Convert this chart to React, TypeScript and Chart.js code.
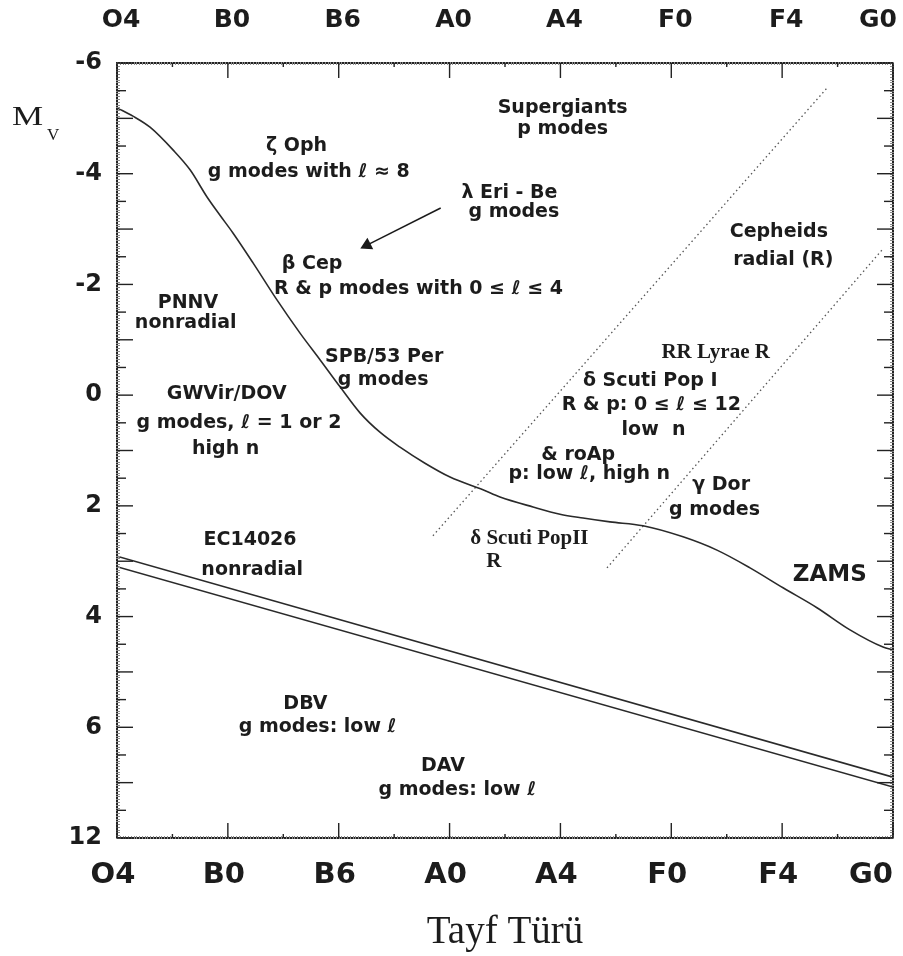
import React, { useEffect, useRef } from 'react';
import { Chart, registerables } from 'chart.js';

Chart.register(...registerables);

// ---- data ----
const spectralTypes = ['O4', 'B0', 'B6', 'A0', 'A4', 'F0', 'F4', 'G0'];
const mvTickValues = [-6, -4, -2, 0, 2, 4, 6, 8];
const mvTickLabels = ['-6', '-4', '-2', '0', '2', '4', '6', '12'];

// ZAMS (x = spectral type index, y = M_V)
const zamsType = [0, 0.144, 0.298, 0.505, 0.659, 0.812, 0.929, 1.046, 1.227, 1.443, 1.651, 1.831, 2.012, 2.192, 2.372, 2.553, 2.778, 3.004, 3.301, 3.455, 3.753, 3.996, 4.204, 4.447, 4.745, 5.106, 5.412, 5.71, 6.008, 6.314, 6.612, 6.91, 7.0];
const zamsMv = [-5.19, -5.04, -4.84, -4.43, -4.07, -3.58, -3.25, -2.93, -2.39, -1.72, -1.12, -0.64, -0.15, 0.32, 0.67, 0.94, 1.23, 1.48, 1.71, 1.84, 2.02, 2.15, 2.22, 2.29, 2.36, 2.56, 2.8, 3.12, 3.48, 3.84, 4.24, 4.55, 4.6];

// white dwarf sequence (two parallel lines)
const wdUpperType = [0, 7];
const wdUpperMv = [2.91, 6.9];
const wdLowerType = [0, 7];
const wdLowerMv = [3.1, 7.08];

// instability strip edges (dotted)
const stripBlueType = [2.85, 6.405];
const stripBlueMv = [2.54, -5.55];
const stripRedType = [4.42, 6.9];
const stripRedMv = [3.12, -2.62];

// arrow (lambda Eri -> beta Cep region)
const arrowType = [2.92, 2.255];
const arrowMv = [-3.38, -2.71];

// text annotations: [text, spectral index, M_V, style]
const notes: [string, number, number, string][] = [
  ['Supergiants', 4.02, -5.19, 'sans'],
  ['p modes', 4.02, -4.81, 'sans'],
  ['ζ Oph', 1.62, -4.5, 'sans'],
  ['g modes with ℓ ≈ 8', 1.73, -4.03, 'sans'],
  ['λ Eri - Be', 3.54, -3.65, 'sans'],
  ['g modes', 3.58, -3.31, 'sans'],
  ['β Cep', 1.76, -2.37, 'sans'],
  ['R & p modes with 0 ≤ ℓ ≤ 4', 2.72, -1.92, 'sans'],
  ['PNNV', 0.64, -1.66, 'sans'],
  ['nonradial', 0.62, -1.3, 'sans'],
  ['SPB/53 Per', 2.41, -0.69, 'sans'],
  ['g modes', 2.4, -0.27, 'sans'],
  ['GWVir/DOV', 0.99, -0.02, 'sans'],
  ['g modes, ℓ = 1 or 2', 1.1, 0.5, 'sans'],
  ['high n', 0.98, 0.97, 'sans'],
  ['Cepheids', 5.97, -2.95, 'sans'],
  ['radial (R)', 6.01, -2.44, 'sans'],
  ['RR Lyrae R', 5.4, -0.76, 'serif'],
  ['δ Scuti Pop I', 4.81, -0.26, 'sans'],
  ['R & p: 0 ≤ ℓ ≤ 12', 4.82, 0.18, 'sans'],
  ['low  n', 4.84, 0.63, 'sans'],
  ['& roAp', 4.16, 1.08, 'sans'],
  ['p: low ℓ, high n', 4.26, 1.42, 'sans'],
  ['γ Dor', 5.45, 1.62, 'sans'],
  ['g modes', 5.39, 2.07, 'sans'],
  ['δ Scuti PopII', 3.72, 2.6, 'serif'],
  ['R', 3.4, 3.01, 'serif'],
  ['ZAMS', 6.43, 3.25, 'big'],
  ['EC14026', 1.2, 2.62, 'sans'],
  ['nonradial', 1.22, 3.16, 'sans'],
  ['DBV', 1.7, 5.58, 'sans'],
  ['g modes: low ℓ', 1.81, 6.0, 'sans'],
  ['DAV', 2.94, 6.7, 'sans'],
  ['g modes: low ℓ', 3.07, 7.13, 'sans'],
];

const yTitle = 'M';
const yTitleSub = 'V';
const xTitle = 'Tayf Türü';

const pts = (xs: number[], ys: number[]) => xs.map((x, i) => ({ x, y: ys[i] }));

const SANS = '"DejaVu Sans", "Liberation Sans", sans-serif';
const SERIF = '"Liberation Serif", "DejaVu Serif", serif';
const INK = '#1c1c1c';

// keep the last spectral-type label inside the frame (right aligned at the edge)
const edgeLabelPlugin = {
  id: 'edgeLabel',
  beforeDraw(chart: any) {
    for (const [id, shift] of [['x', 0], ['x2', 4]] as [string, number][]) {
      const s = chart.scales[id];
      if (!s || !s.getLabelItems) continue;
      const items = s.getLabelItems();
      const last = items && items[items.length - 1];
      if (last && last.options) {
        last.options.textAlign = 'right';
        if (last.options.translation) last.options.translation[0] = s.right + shift;
      }
    }
  },
};

const tickPlugin = {
  id: 'inwardTicks',
  afterDatasetsDraw(chart: any) {
    const { ctx, chartArea } = chart;
    const { left, right, top, bottom } = chartArea;
    const xs = chart.scales.x;
    const ys = chart.scales.y;
    const seg = (a: number, b: number, c: number, d: number) => {
      ctx.beginPath();
      ctx.moveTo(a, b);
      ctx.lineTo(c, d);
      ctx.stroke();
    };
    ctx.save();
    // fine ruler hatching
    ctx.strokeStyle = '#8a8a8a';
    ctx.lineWidth = 1;
    for (let i = 0; i <= 280; i++) {
      const v = -6 + i * 0.05;
      const py = Math.round(ys.getPixelForValue(v)) + 0.5;
      seg(left - 1, py, left + 3, py);
      seg(right + 1, py, right - 3, py);
    }
    for (let i = 0; i <= 280; i++) {
      const v = i * 0.025;
      const px = Math.round(xs.getPixelForValue(v)) + 0.5;
      seg(px, top - 1, px, top + 2);
      seg(px, bottom + 1, px, bottom - 2);
    }
    ctx.strokeStyle = '#222';
    ctx.lineWidth = 1.4;
    for (let i = 0; i <= 28; i++) {
      const v = -6 + i * 0.5;
      const py = ys.getPixelForValue(v);
      const len = i % 2 === 0 ? 16 : 9;
      seg(left, py, left + len, py);
      seg(right, py, right - len, py);
    }
    for (let i = 0; i <= 14; i++) {
      const v = i * 0.5;
      const px = xs.getPixelForValue(v);
      const len = i % 2 === 0 ? 15 : 4;
      seg(px, top, px, top + len);
      seg(px, bottom, px, bottom - len);
    }
    ctx.restore();
  },
};

const notesPlugin = {
  id: 'notes',
  afterDatasetsDraw(chart: any) {
    const { ctx } = chart;
    const xs = chart.scales.x;
    const ys = chart.scales.y;
    ctx.save();
    ctx.fillStyle = INK;
    ctx.textAlign = 'center';
    ctx.textBaseline = 'middle';
    for (const [text, sx, mv, style] of notes) {
      if (style === 'serif') ctx.font = `bold 21px ${SERIF}`;
      else if (style === 'big') ctx.font = `bold 23px ${SANS}`;
      else ctx.font = `bold 19px ${SANS}`;
      ctx.fillText(text, xs.getPixelForValue(sx), ys.getPixelForValue(mv));
    }
    // y axis title M_V
    const x0 = ys.left + 12;
    const yBase = chart.chartArea.top + 62;
    ctx.textAlign = 'left';
    ctx.textBaseline = 'alphabetic';
    ctx.save();
    ctx.translate(x0, yBase);
    ctx.scale(1.25, 1);
    ctx.font = `28px ${SERIF}`;
    ctx.fillText(yTitle, 0, 0);
    ctx.restore();
    ctx.font = `17px ${SERIF}`;
    ctx.fillText(yTitleSub, x0 + 35, yBase + 15);
    ctx.restore();
  },
};

export default function App() {
  const ref = useRef<HTMLCanvasElement>(null);
  useEffect(() => {
    if (!ref.current) return;
    const borderOpt = { display: true, color: '#222', width: 2 };
    const noGrid = { display: false, drawTicks: false, drawOnChartArea: false };
    const chart = new Chart(ref.current, {
      type: 'scatter',
      data: {
        datasets: [
          {
            label: 'ZAMS',
            data: pts(zamsType, zamsMv),
            showLine: true,
            borderColor: '#2a2a2a',
            borderWidth: 1.6,
            pointRadius: 0,
            cubicInterpolationMode: 'monotone',
          },
          {
            label: 'WD upper',
            data: pts(wdUpperType, wdUpperMv),
            showLine: true,
            borderColor: '#2a2a2a',
            borderWidth: 1.6,
            pointRadius: 0,
          },
          {
            label: 'WD lower',
            data: pts(wdLowerType, wdLowerMv),
            showLine: true,
            borderColor: '#2a2a2a',
            borderWidth: 1.6,
            pointRadius: 0,
          },
          {
            label: 'Blue edge',
            data: pts(stripBlueType, stripBlueMv),
            showLine: true,
            borderColor: '#555',
            borderWidth: 1.3,
            borderDash: [1.5, 3],
            pointRadius: 0,
          },
          {
            label: 'Red edge',
            data: pts(stripRedType, stripRedMv),
            showLine: true,
            borderColor: '#555',
            borderWidth: 1.3,
            borderDash: [1.5, 3],
            pointRadius: 0,
          },
          {
            label: 'Arrow',
            data: pts(arrowType, arrowMv),
            showLine: true,
            borderColor: '#1a1a1a',
            borderWidth: 1.5,
            pointRadius: [0, 6],
            pointStyle: 'triangle',
            backgroundColor: '#1a1a1a',
            pointBackgroundColor: '#1a1a1a',
            pointBorderColor: '#1a1a1a',
            pointRotation: (c: any) => {
              const ch = c.chart;
              const xsc = ch.scales.x;
              const ysc = ch.scales.y;
              const dx = xsc.getPixelForValue(arrowType[1]) - xsc.getPixelForValue(arrowType[0]);
              const dy = ysc.getPixelForValue(arrowMv[1]) - ysc.getPixelForValue(arrowMv[0]);
              return (Math.atan2(dy, dx) * 180) / Math.PI + 90;
            },
          },
        ],
      },
      options: {
        animation: false,
        responsive: false,
        layout: { padding: 0 },
        plugins: { legend: { display: false }, tooltip: { enabled: false } },
        scales: {
          x: {
            type: 'linear',
            position: 'bottom',
            min: 0,
            max: 7,
            afterBuildTicks: (s: any) => {
              s.ticks = spectralTypes.map((_, i) => ({ value: i }));
            },
            ticks: {
              callback: (v: any) => spectralTypes[Math.round(v)],
              padding: 20,
              labelOffset: -4,
              font: { family: SANS, size: 29, weight: 'bold' },
              color: INK,
              maxRotation: 0,
              autoSkip: false,
            },
            grid: noGrid,
            border: borderOpt,
            title: {
              display: true,
              text: xTitle,
              font: { family: SERIF, size: 39 },
              color: INK,
              padding: { top: 0, bottom: 0 },
            },
            afterFit: (s: any) => {
              s.height = 118;
              s.paddingLeft = 0;
              s.paddingRight = 0;
            },
          },
          x2: {
            type: 'linear',
            axis: 'x',
            position: 'top',
            min: 0,
            max: 7,
            afterBuildTicks: (s: any) => {
              s.ticks = spectralTypes.map((_, i) => ({ value: i }));
            },
            ticks: {
              callback: (v: any) => spectralTypes[Math.round(v)],
              padding: 28,
              labelOffset: 4,
              font: { family: SANS, size: 25, weight: 'bold' },
              color: INK,
              maxRotation: 0,
              autoSkip: false,
            },
            grid: noGrid,
            border: borderOpt,
            afterFit: (s: any) => {
              s.height = 63;
              s.paddingLeft = 0;
              s.paddingRight = 0;
            },
          },
          y: {
            type: 'linear',
            position: 'left',
            reverse: true,
            min: -6,
            max: 8,
            afterBuildTicks: (s: any) => {
              s.ticks = mvTickValues.map((v) => ({ value: v }));
            },
            ticks: {
              callback: (v: any) => mvTickLabels[mvTickValues.indexOf(v)],
              padding: 15,
              font: { family: SANS, size: 24, weight: 'bold' },
              color: INK,
              autoSkip: false,
            },
            grid: noGrid,
            border: borderOpt,
            afterFit: (s: any) => {
              s.width = 117;
              s.paddingTop = 0;
              s.paddingBottom = 0;
            },
          },
          y2: {
            type: 'linear',
            axis: 'y',
            position: 'right',
            reverse: true,
            min: -6,
            max: 8,
            ticks: { display: false },
            grid: noGrid,
            border: borderOpt,
            afterFit: (s: any) => {
              s.width = 10;
              s.paddingTop = 0;
              s.paddingBottom = 0;
            },
          },
        },
      },
      plugins: [edgeLabelPlugin, tickPlugin, notesPlugin],
    } as any);
    return () => chart.destroy();
  }, []);
  return (
    <div style={{ position: 'absolute', left: 0, top: 0, width: 903, height: 956, background: '#fff' }}>
      <canvas ref={ref} width={903} height={956} style={{ width: 903, height: 956, display: 'block' }} />
    </div>
  );
}
